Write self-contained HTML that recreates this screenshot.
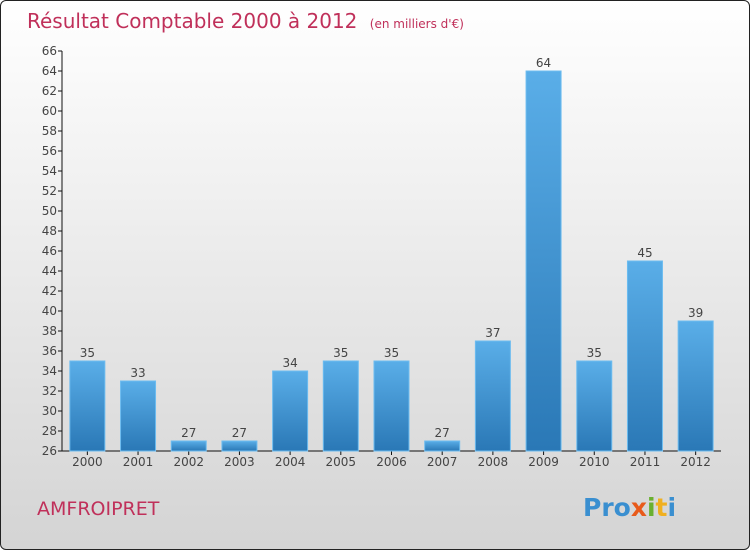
<!DOCTYPE html>
<html><head><meta charset="utf-8"><style>
body{margin:0}
#c{position:relative;width:748px;height:548px;border:1px solid #222;border-radius:6px;background:linear-gradient(#ffffff,#d4d4d4);overflow:hidden;font-family:"DejaVu Sans","Liberation Sans",sans-serif}
</style></head><body>
<div id="c">
<svg width="748" height="548">
<defs><linearGradient id="g" x1="0" y1="0" x2="0" y2="1"><stop offset="0" stop-color="#5aaee8"/><stop offset="1" stop-color="#2a78b6"/></linearGradient></defs>
<text x="26" y="27" font-size="20" fill="#c0305a">Résultat Comptable 2000 à 2012 <tspan font-size="12" dx="6">(en milliers d'€)</tspan></text>
<g id="ax"></g><g id="bars"></g>
<text x="36" y="514" font-size="19" fill="#c0305a">AMFROIPRET</text>
<text x="582" y="515" font-size="25" font-weight="bold"><tspan fill="#3a8fd0">Pro</tspan><tspan fill="#e85a1a">x</tspan><tspan fill="#6ab030">i</tspan><tspan fill="#f0b020">t</tspan><tspan fill="#3a8fd0">i</tspan></text>
</svg></div>
<script>
const categories=["2000","2001","2002","2003","2004","2005","2006","2007","2008","2009","2010","2011","2012"];
const values=[35,33,27,27,34,35,35,27,37,64,35,45,39];
const yTicks=[26,28,30,32,34,36,38,40,42,44,46,48,50,52,54,56,58,60,62,64,66];
const NS="http://www.w3.org/2000/svg";
const x0=61,x1=720,yTop=50,yBot=450,ymin=26,ymax=66;
const band=(x1-x0)/categories.length;
const y=v=>yBot-(v-ymin)/(ymax-ymin)*(yBot-yTop);
const xc=i=>x0+band*(i+0.5);
function mk(t,a,p){const e=document.createElementNS(NS,t);for(const k in a)e.setAttribute(k,a[k]);p.appendChild(e);return e;}
const ax=document.getElementById('ax'),bars=document.getElementById('bars');
const yl=mk('line',{x1:x0,y1:yTop,x2:x0,y2:yBot,stroke:'#111'},ax);


const xl=mk('line',{x1:x0,y1:yBot,x2:x1,y2:yBot,stroke:'#111'},ax);


yTicks.forEach(v=>{
 mk('line',{x1:x0-4,y1:y(v),x2:x0,y2:y(v),stroke:'#111'},ax);
 const t=mk('text',{x:x0-5,y:y(v)+4,'font-size':12,'text-anchor':'end',fill:'#444'},ax);
 t.textContent=v;
 
 
});
categories.forEach((c,i)=>{
 const v=values[i],w=35;
 const r=mk('rect',{x:xc(i)-w/2,y:y(v),width:w,height:yBot-y(v),fill:'url(#g)',stroke:'#6cbcf0','stroke-width':1},bars);
 
 
 mk('line',{x1:xc(i),y1:yBot,x2:xc(i),y2:yBot+4,stroke:'#111'},ax);
 const t=mk('text',{x:xc(i),y:yBot+15,'font-size':12,'text-anchor':'middle',fill:'#444'},ax);
 t.textContent=c;
 
 
 const l=mk('text',{x:xc(i),y:y(v)-4,'font-size':12,'text-anchor':'middle',fill:'#444'},bars);
 l.textContent=v;
 
 
});
</script>
</body></html>
